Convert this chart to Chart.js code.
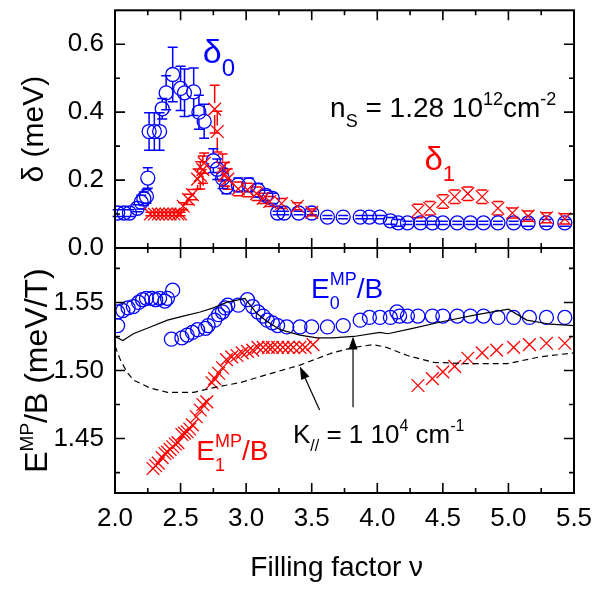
<!DOCTYPE html>
<html>
<head>
<meta charset="utf-8">
<script src="https://cdn.jsdelivr.net/npm/chart.js@4.4.1/dist/chart.umd.min.js"></script>
<style>
  body { margin: 0; background: #fff; }
  #wrap { position: relative; width: 596px; height: 589px; }
  canvas { position: absolute; left: 0; top: 0; }
</style>
</head>
<body>
<div id="wrap">
  <canvas id="bottomChart" width="596" height="589"></canvas>
  <canvas id="topChart" width="596" height="589"></canvas>
</div>
<script>
// Splitting of magnetoplasmon modes vs filling factor

// axis ticks
const xTicks = [2.0, 2.5, 3.0, 3.5, 4.0, 4.5, 5.0, 5.5];
const xMinor = [2.25, 2.75, 3.25, 3.75, 4.25, 4.75, 5.25];
const deltaTicks = [0.0, 0.2, 0.4, 0.6];
const deltaMinor = [0.1, 0.3, 0.5];
const eTicks = [1.45, 1.50, 1.55];
const eMinor = [1.425, 1.475, 1.525, 1.575];

// top panel: delta_0 (blue circles)
const nu0 = [2.02, 2.07, 2.11, 2.17, 2.20, 2.22, 2.24, 2.25, 2.26, 2.30, 2.34, 2.36, 2.39, 2.44, 2.50, 2.53, 2.60, 2.64, 2.68,
  2.75, 2.78, 2.82, 2.85, 2.94, 3.02, 3.09, 3.15, 3.20, 3.24, 3.29, 3.40, 3.50, 3.62, 3.74, 3.87, 3.94, 4.02, 4.10, 4.16,
  4.23, 4.33, 4.42, 4.50, 4.61, 4.71, 4.81, 4.92, 5.04, 5.15, 5.29, 5.43];
const delta0 = [0.103, 0.103, 0.103, 0.117, 0.135, 0.145, 0.152, 0.206, 0.343, 0.343, 0.343, 0.41, 0.457, 0.511, 0.47, 0.457, 0.46, 0.40, 0.373,
  0.257, 0.232, 0.205, 0.18, 0.186, 0.186, 0.17, 0.155, 0.146, 0.103, 0.103, 0.103, 0.103, 0.091, 0.091, 0.091, 0.091, 0.091, 0.08, 0.074,
  0.074, 0.074, 0.074, 0.074, 0.074, 0.074, 0.074, 0.074, 0.074, 0.074, 0.074, 0.074];
const delta0Err = [0.01, 0.01, 0.01, 0.01, 0.02, 0.02, 0.02, 0.03, 0.055, 0.055, 0.055, 0.03, 0.05, 0.08, 0.065, 0.07, 0.07, 0.05, 0.05,
  0.035, 0.03, 0.03, 0.02, 0.02, 0.02, 0.02, 0.015, 0.015, 0.005, 0.005, 0.005, 0.005, 0.005, 0.005, 0.005, 0.005, 0.005, 0.01, 0.01,
  0.005, 0.005, 0.005, 0.005, 0.005, 0.005, 0.005, 0.005, 0.005, 0.01, 0.01, 0.01];

// top panel: delta_1 (red crosses)
const nu1 = [2.27, 2.30, 2.33, 2.36, 2.39, 2.42, 2.45, 2.48, 2.50, 2.52, 2.56, 2.59, 2.63, 2.65, 2.67, 2.68, 2.76, 2.78, 2.82,
  2.84, 2.86, 2.94, 3.01, 3.08, 3.13, 3.18, 3.27, 3.39, 3.50, 4.31, 4.40, 4.50, 4.59, 4.69, 4.80, 4.92, 5.03, 5.15, 5.29, 5.43];
const delta1 = [0.1, 0.1, 0.1, 0.1, 0.1, 0.1, 0.1, 0.1, 0.1, 0.123, 0.143, 0.157, 0.203, 0.214, 0.231, 0.25, 0.409, 0.343, 0.237,
  0.217, 0.203, 0.174, 0.171, 0.16, 0.146, 0.137, 0.131, 0.123, 0.105, 0.109, 0.117, 0.137, 0.151, 0.16, 0.151, 0.117, 0.103, 0.094, 0.089, 0.086];
const delta1Err = [0.005, 0.005, 0.005, 0.005, 0.005, 0.005, 0.005, 0.005, 0.005, 0.01, 0.015, 0.015, 0.03, 0.04, 0.04, 0.03, 0.07, 0.06, 0.04,
  0.035, 0.03, 0.02, 0.02, 0.02, 0.015, 0.015, 0.015, 0.01, 0.01, 0.02, 0.02, 0.02, 0.02, 0.02, 0.02, 0.02, 0.015, 0.015, 0.015, 0.015];

// bottom panel: E0^MP/B (blue circles)
const nuE0 = [2.02, 2.02, 2.06, 2.10, 2.14, 2.18, 2.21, 2.24, 2.28, 2.31, 2.34, 2.38, 2.40, 2.44,
  2.43, 2.51, 2.55, 2.59, 2.63, 2.69, 2.71, 2.76, 2.79, 2.82, 2.84, 2.86, 2.94, 3.01, 3.05, 3.09, 3.13, 3.16, 3.20, 3.24,
  3.31, 3.41, 3.50, 3.62, 3.74, 3.87, 3.94, 4.02, 4.10, 4.15, 4.17, 4.23, 4.31, 4.42, 4.50, 4.61, 4.71, 4.81, 4.92, 5.04,
  5.16, 5.29, 5.43];
const e0 = [1.533, 1.543, 1.544, 1.546, 1.547, 1.550, 1.552, 1.553, 1.553, 1.552, 1.553, 1.551, 1.553, 1.559,
  1.523, 1.524, 1.526, 1.528, 1.530, 1.531, 1.533, 1.537, 1.541, 1.543, 1.546, 1.548, 1.548, 1.552, 1.547, 1.543, 1.540, 1.537, 1.535, 1.533,
  1.532, 1.532, 1.532, 1.532, 1.533, 1.537, 1.539, 1.539, 1.539, 1.543, 1.540, 1.540, 1.540, 1.540, 1.540, 1.540, 1.540, 1.540, 1.539, 1.539,
  1.539, 1.539, 1.539];

// bottom panel: E1^MP/B (red crosses)
const nuE1 = [2.29, 2.31, 2.33, 2.36, 2.38, 2.40, 2.42, 2.44, 2.46, 2.48, 2.51, 2.53, 2.55, 2.57, 2.59, 2.62, 2.65, 2.67, 2.70,
  2.74, 2.76, 2.79, 2.82, 2.85, 2.89, 2.93, 2.97, 3.01, 3.05, 3.09, 3.13, 3.17, 3.20, 3.24, 3.28, 3.32, 3.36, 3.41, 3.45, 3.51,
  4.31, 4.42, 4.50, 4.59, 4.69, 4.80, 4.91, 5.04, 5.16, 5.29, 5.43];
const e1 = [1.428, 1.430, 1.432, 1.436, 1.439, 1.440, 1.442, 1.444, 1.446, 1.447, 1.453, 1.454, 1.455, 1.457, 1.460, 1.466, 1.471, 1.475, 1.477,
  1.491, 1.494, 1.498, 1.502, 1.508, 1.510, 1.511, 1.513, 1.514, 1.515, 1.517, 1.517, 1.517, 1.517, 1.517, 1.517, 1.517, 1.517, 1.517, 1.517, 1.519,
  1.489, 1.494, 1.499, 1.503, 1.509, 1.513, 1.515, 1.517, 1.519, 1.520, 1.520];

// theory curves, K = 1e4 cm^-1
const nuSolid = [2.00, 2.06, 2.14, 2.27, 2.40, 2.52, 2.65, 2.75, 2.85, 2.99, 3.04, 3.08, 3.16, 3.26, 3.41, 3.54, 3.66, 3.82,
  4.02, 4.08, 4.27, 4.50, 4.76, 5.00, 5.14, 5.32, 5.50];
const eSolid = [1.525, 1.522, 1.527, 1.532, 1.537, 1.540, 1.543, 1.546, 1.550, 1.553, 1.547, 1.542, 1.536, 1.530, 1.526, 1.524, 1.524, 1.525,
  1.528, 1.527, 1.531, 1.536, 1.541, 1.545, 1.537, 1.534, 1.533];
const nuDash = [2.00, 2.04, 2.09, 2.14, 2.27, 2.40, 2.60, 2.78, 2.95, 3.16, 3.41, 3.66, 3.82, 3.97, 4.07, 4.23, 4.43, 4.68,
  4.99, 5.24, 5.50];
const eDash = [1.518, 1.508, 1.499, 1.493, 1.487, 1.484, 1.484, 1.488, 1.491, 1.497, 1.504, 1.513, 1.517, 1.519, 1.517, 1.511, 1.506, 1.505,
  1.505, 1.510, 1.513];

const FONT = '"Liberation Sans", Arial, sans-serif';
const BLUE = 'rgb(0,0,255)';
const RED = 'rgb(255,0,0)';
Chart.defaults.font.family = FONT;
Chart.defaults.color = '#000';

const pts = (xs, ys) => xs.map((x, i) => ({ x: x, y: ys[i] }));

// draws a string made of normal / sub / superscript pieces; returns the width
// parts: [text, size, dy, stacked]
function richText(ctx, x, y, parts, color, dry) {
  let cx = x, hold = 0;
  ctx.fillStyle = color;
  ctx.textAlign = 'left';
  ctx.textBaseline = 'alphabetic';
  for (const [t, size, dy, stack] of parts) {
    ctx.font = size + 'px ' + FONT;
    const w = ctx.measureText(t).width;
    if (!dry) ctx.fillText(t, cx, y + (dy || 0));
    if (stack) hold = Math.max(hold, w);
    else { cx += Math.max(hold, w); hold = 0; }
  }
  return cx - x;
}

// box with inward ticks on all four sides
function drawFrame(chart, yId, yMaj, yMin) {
  const { ctx, chartArea: a, scales } = chart;
  const xs = scales.x, ys = scales[yId];
  ctx.save();
  ctx.strokeStyle = '#000';
  ctx.lineWidth = 2;
  ctx.strokeRect(a.left, a.top, a.right - a.left, a.bottom - a.top);
  ctx.lineWidth = 1.6;
  ctx.beginPath();
  [[xTicks, 10], [xMinor, 5]].forEach(([vals, len]) => vals.forEach((v) => {
    const p = xs.getPixelForValue(v);
    ctx.moveTo(p, a.bottom); ctx.lineTo(p, a.bottom - len);
    ctx.moveTo(p, a.top); ctx.lineTo(p, a.top + len);
  }));
  [[yMaj, 10], [yMin, 5]].forEach(([vals, len]) => vals.forEach((v) => {
    const p = ys.getPixelForValue(v);
    ctx.moveTo(a.left, p); ctx.lineTo(a.left + len, p);
    ctx.moveTo(a.right, p); ctx.lineTo(a.right - len, p);
  }));
  ctx.stroke();
  ctx.restore();
}

function drawArrow(ctx, x1, y1, x2, y2) {
  const ang = Math.atan2(y2 - y1, x2 - x1);
  const hl = 13, hw = 4.5;
  ctx.beginPath();
  ctx.moveTo(x1, y1);
  ctx.lineTo(x2 - Math.cos(ang) * hl * 0.8, y2 - Math.sin(ang) * hl * 0.8);
  ctx.stroke();
  ctx.beginPath();
  ctx.moveTo(x2, y2);
  ctx.lineTo(x2 - Math.cos(ang) * hl + Math.sin(ang) * hw, y2 - Math.sin(ang) * hl - Math.cos(ang) * hw);
  ctx.lineTo(x2 - Math.cos(ang) * hl - Math.sin(ang) * hw, y2 - Math.sin(ang) * hl + Math.cos(ang) * hw);
  ctx.closePath();
  ctx.fill();
}

const errorBars = {
  id: 'errorBars',
  beforeDatasetsDraw(chart) {
    const { ctx, scales } = chart;
    chart.data.datasets.forEach((ds) => {
      if (!ds.errors) return;
      const r = ds.barGap;
      ctx.save();
      ctx.strokeStyle = ds.borderColor;
      ctx.lineWidth = 1.5;
      ctx.beginPath();
      ds.data.forEach((p, i) => {
        const x = scales.x.getPixelForValue(p.x);
        const y = scales.y.getPixelForValue(p.y);
        const top = scales.y.getPixelForValue(p.y + ds.errors[i]);
        const bot = scales.y.getPixelForValue(p.y - ds.errors[i]);
        if (y - top > r) {
          ctx.moveTo(x, y - r); ctx.lineTo(x, top);
          ctx.moveTo(x, y + r); ctx.lineTo(x, bot);
        }
        ctx.moveTo(x - 5, top); ctx.lineTo(x + 5, top);
        ctx.moveTo(x - 5, bot); ctx.lineTo(x + 5, bot);
      });
      ctx.stroke();
      ctx.restore();
    });
  }
};

const topDecor = {
  id: 'topDecor',
  afterDraw(chart) {
    const { ctx, scales } = chart;
    drawFrame(chart, 'y', deltaTicks, deltaMinor);
    const X = (v) => scales.x.getPixelForValue(v);
    const Y = (v) => scales.y.getPixelForValue(v);
    ctx.save();
    richText(ctx, X(2.67), Y(0.546), [['\u03b4', 34, 0], ['0', 24, 13]], BLUE);
    richText(ctx, X(4.36), Y(0.231), [['\u03b4', 33, 0], ['1', 22, 11]], RED);
    richText(ctx, X(3.64), Y(0.386), [['n', 28, 0], ['S', 18, 10], [' = 1.28 10', 28, 0], ['12', 18, -12], ['cm', 28, 0], ['-2', 18, -12]], '#000');
    ctx.restore();
  }
};

const bottomDecor = {
  id: 'bottomDecor',
  afterDraw(chart) {
    const { ctx, scales, chartArea: a } = chart;
    drawFrame(chart, 'y', eTicks, eMinor);
    const X = (v) => scales.x.getPixelForValue(v);
    const Y = (v) => scales.y.getPixelForValue(v);
    ctx.save();
    richText(ctx, X(3.495), Y(1.553), [['E', 28, 0], ['MP', 18, -13, true], ['0', 18, 11], ['/B', 28, 0]], BLUE);
    richText(ctx, X(2.62), Y(1.434), [['E', 28, 0], ['MP', 18, -13, true], ['1', 18, 11], ['/B', 28, 0]], RED);
    richText(ctx, X(3.357), Y(1.447), [['K', 26, 0], ['//', 16, 8], [' = 1 10', 26, 0], ['4', 16, -12], [' cm', 26, 0], ['-1', 16, -12]], '#000');
    // arrows from the label to the two curves
    ctx.strokeStyle = '#000';
    ctx.fillStyle = '#000';
    ctx.lineWidth = 1.2;
    drawArrow(ctx, X(3.56), Y(1.471), X(3.41), Y(1.503));
    drawArrow(ctx, X(3.815), Y(1.473), X(3.815), Y(1.525));
    // y axis title with superscript
    const title = [['E', 32, 0], ['MP', 19, -14], ['/B (meV/T)', 32, 0]];
    ctx.translate(47, (a.top + a.bottom) / 2);
    ctx.rotate(-Math.PI / 2);
    const w = richText(ctx, 0, 0, title, '#000', true);
    richText(ctx, -w / 2, 0, title, '#000');
    ctx.restore();
  }
};

const fixTicks = (vals) => (s) => { s.ticks = vals.map((v) => ({ value: v })); };
// fixed axis size and no extra room for half labels
const fixWidth = (w) => (s) => { s.width = w; s.paddingTop = 0; s.paddingBottom = 0; };
const fixHeight = (h) => (s) => { s.height = h; s.paddingLeft = 0; s.paddingRight = 0; };

new Chart(document.getElementById('topChart'), {
  type: 'scatter',
  data: {
    datasets: [
      { data: pts(nu1, delta1), errors: delta1Err, barGap: 6, pointStyle: 'crossRot', pointRadius: 9,
        borderColor: RED, backgroundColor: RED, borderWidth: 1.3 },
      { data: pts(nu0, delta0), errors: delta0Err, barGap: 7, pointStyle: 'circle', pointRadius: 7,
        borderColor: BLUE, backgroundColor: 'rgba(0,0,0,0)', borderWidth: 1.3 }
    ]
  },
  options: {
    responsive: false,
    animation: false,
    layout: { padding: { top: 3, bottom: 341, left: 0, right: 22 } },
    plugins: { legend: { display: false }, tooltip: { enabled: false } },
    scales: {
      x: { type: 'linear', min: 2, max: 5.5, display: false },
      y: {
        type: 'linear', min: 0, max: 0.7,
        afterBuildTicks: fixTicks(deltaTicks),
        afterFit: fixWidth(115),
        grid: { display: false, drawTicks: false },
        border: { display: false },
        ticks: { padding: 11, font: { size: 26 }, callback: (v) => v.toFixed(1) },
        title: { display: true, text: '\u03b4 (meV)', font: { size: 30 }, padding: { top: 17, bottom: 0 } }
      }
    }
  },
  plugins: [errorBars, topDecor]
});

new Chart(document.getElementById('bottomChart'), {
  type: 'scatter',
  data: {
    datasets: [
      { type: 'line', data: pts(nuSolid, eSolid), borderColor: '#000', borderWidth: 1.2, pointRadius: 0, tension: 0 },
      { type: 'line', data: pts(nuDash, eDash), borderColor: '#000', borderWidth: 1.2, borderDash: [6, 4], pointRadius: 0, tension: 0 },
      { data: pts(nuE1, e1), pointStyle: 'crossRot', pointRadius: 9, borderColor: RED, backgroundColor: RED, borderWidth: 1.3 },
      { data: pts(nuE0, e0), pointStyle: 'circle', pointRadius: 7, borderColor: BLUE, backgroundColor: 'rgba(0,0,0,0)', borderWidth: 1.3 }
    ]
  },
  options: {
    responsive: false,
    animation: false,
    layout: { padding: { top: 248, bottom: 0, left: 0, right: 22 } },
    plugins: { legend: { display: false }, tooltip: { enabled: false } },
    scales: {
      x: {
        type: 'linear', min: 2, max: 5.5,
        afterBuildTicks: fixTicks(xTicks),
        afterFit: fixHeight(96),
        grid: { display: false, drawTicks: false },
        border: { display: false },
        ticks: { padding: 10, font: { size: 26 }, maxRotation: 0, callback: (v) => v.toFixed(1) },
        title: { display: true, text: 'Filling factor \u03bd  ', font: { size: 28 }, padding: { top: 0, bottom: 4 } }
      },
      y: {
        type: 'linear', min: 1.41, max: 1.59,
        afterBuildTicks: fixTicks(eTicks),
        afterFit: fixWidth(115),
        grid: { display: false, drawTicks: false },
        border: { display: false },
        ticks: { padding: 11, font: { size: 26 }, callback: (v) => v.toFixed(2) }
      }
    }
  },
  plugins: [bottomDecor]
});
</script>
</body>
</html>
